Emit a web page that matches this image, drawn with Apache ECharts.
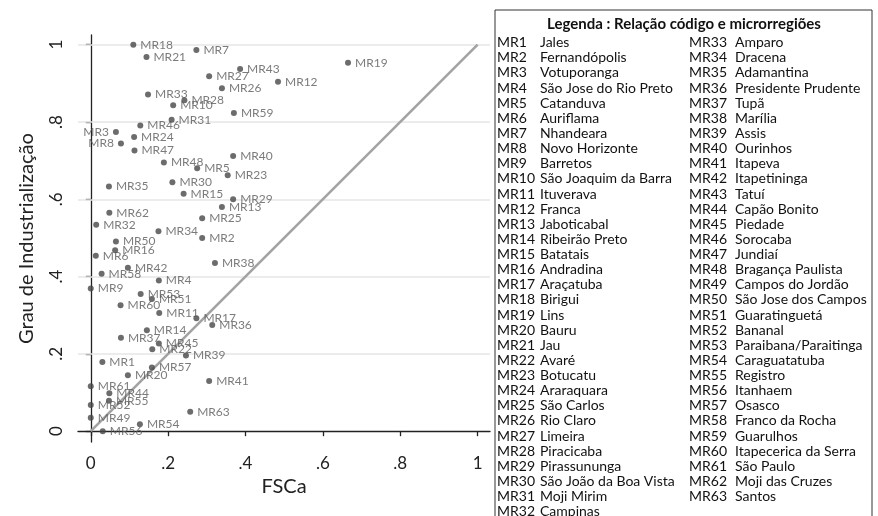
<!DOCTYPE html>
<html>
<head>
<meta charset="utf-8">
<script src="https://cdn.jsdelivr.net/npm/echarts@6/dist/echarts.min.js"></script>
<style>
  html, body { margin: 0; padding: 0; background: #fff; }
  #chart { width: 878px; height: 516px; }
</style>
</head>
<body>
<div id="chart"></div>
<script>
  // microrregiões MR1..MR63
  const regionNames = [
    'Jales', 'Fernandópolis', 'Votuporanga', 'São Jose do Rio Preto', 'Catanduva',
    'Auriflama', 'Nhandeara', 'Novo Horizonte', 'Barretos', 'São Joaquim da Barra',
    'Ituverava', 'Franca', 'Jaboticabal', 'Ribeirão Preto', 'Batatais',
    'Andradina', 'Araçatuba', 'Birigui', 'Lins', 'Bauru',
    'Jau', 'Avaré', 'Botucatu', 'Araraquara', 'São Carlos',
    'Rio Claro', 'Limeira', 'Piracicaba', 'Pirassununga', 'São João da Boa Vista',
    'Moji Mirim', 'Campinas', 'Amparo', 'Dracena', 'Adamantina',
    'Presidente Prudente', 'Tupã', 'Marília', 'Assis', 'Ourinhos',
    'Itapeva', 'Itapetininga', 'Tatuí', 'Capão Bonito', 'Piedade',
    'Sorocaba', 'Jundiaí', 'Bragança Paulista', 'Campos do Jordão', 'São Jose dos Campos',
    'Guaratinguetá', 'Bananal', 'Paraibana/Paraitinga', 'Caraguatatuba', 'Registro',
    'Itanhaem', 'Osasco', 'Franco da Rocha', 'Guarulhos', 'Itapecerica da Serra',
    'São Paulo', 'Moji das Cruzes', 'Santos'
  ];
  const regionCodes = regionNames.map((_, i) => 'MR' + (i + 1));

  // FSCa (eixo x)
  const fsca = [
    0.030, 0.288, 0.065, 0.176, 0.275, 0.013, 0.273, 0.078, 0.000, 0.213,
    0.177, 0.484, 0.339, 0.145, 0.240, 0.063, 0.273, 0.110, 0.665, 0.096,
    0.144, 0.159, 0.354, 0.112, 0.288, 0.339, 0.306, 0.242, 0.368, 0.211,
    0.209, 0.014, 0.148, 0.175, 0.047, 0.314, 0.078, 0.321, 0.246, 0.368,
    0.306, 0.096, 0.386, 0.048, 0.176, 0.128, 0.113, 0.189, 0.000, 0.065,
    0.158, 0.000, 0.129, 0.127, 0.047, 0.031, 0.158, 0.028, 0.370, 0.077,
    0.000, 0.048, 0.257
  ];
  // Grau de Industrialização (eixo y)
  const industrial = [
    0.179, 0.500, 0.774, 0.390, 0.680, 0.454, 0.986, 0.744, 0.369, 0.843,
    0.306, 0.904, 0.580, 0.261, 0.614, 0.468, 0.292, 1.000, 0.953, 0.145,
    0.968, 0.212, 0.662, 0.761, 0.551, 0.887, 0.918, 0.856, 0.600, 0.644,
    0.806, 0.534, 0.871, 0.517, 0.633, 0.275, 0.242, 0.435, 0.196, 0.712,
    0.130, 0.423, 0.937, 0.098, 0.227, 0.791, 0.726, 0.695, 0.035, 0.491,
    0.342, 0.068, 0.355, 0.018, 0.079, 0.000, 0.165, 0.407, 0.823, 0.326,
    0.116, 0.565, 0.050
  ];

  const xTicks = [0, 0.2, 0.4, 0.6, 0.8, 1];
  const yTicks = [0, 0.2, 0.4, 0.6, 0.8, 1];
  const yGridLines = [0.2, 0.4, 0.6, 0.8, 1];
  const diagonal = [[0, 0], [1, 1]];

  const legendTitle = 'Legenda : Relação código e microrregiões';
  const leftLabels = ['MR3', 'MR8'];

  const fmtTick = (v) => {
    if (v === 0) return '0';
    if (v === 1) return '1';
    return String(+v.toFixed(1)).replace(/^0/, '');
  };

  const font = 'Lato';
  const chart = echarts.init(document.getElementById('chart'));

  const scatterData = regionCodes.map((code, i) => {
    const item = { name: code, value: [fsca[i], industrial[i]] };
    if (leftLabels.includes(code)) {
      item.label = { position: 'left' };
    }
    return item;
  });

  // caixa da legenda à direita
  const boxX = 495, boxY = 10;
  const rowTop = 42.7, rowStep = 15.13;
  const legendGraphics = [
    {
      type: 'rect',
      shape: { x: boxX, y: boxY, width: 377, height: 540 },
      style: { fill: 'none', stroke: '#333', lineWidth: 1 }
    },
    {
      type: 'text',
      x: 684, y: 24,
      style: {
        text: legendTitle, fill: '#111', font: 'bold 15px ' + font,
        textAlign: 'center', textVerticalAlign: 'middle'
      }
    }
  ];
  regionCodes.forEach((code, i) => {
    const col = i < 32 ? 0 : 1;
    const row = col === 0 ? i : i - 32;
    const y = rowTop + row * rowStep;
    const codeX = col === 0 ? 497 : 689;
    const nameX = col === 0 ? 540 : 735;
    legendGraphics.push({
      type: 'text', x: codeX, y: y,
      style: { text: code, fill: '#111', font: '14px ' + font, textVerticalAlign: 'middle' }
    });
    legendGraphics.push({
      type: 'text', x: nameX, y: y,
      style: { text: regionNames[i], fill: '#111', font: '14px ' + font, textVerticalAlign: 'middle' }
    });
  });

  chart.setOption({
    animation: false,
    grid: { left: 78, right: 388, top: 35, bottom: 74 },
    xAxis: {
      type: 'value',
      min: -0.033,
      max: 1.032,
      name: 'FSCa',
      nameLocation: 'middle',
      nameGap: 35,
      nameTextStyle: { fontFamily: font, fontSize: 20, color: '#222' },
      axisLine: { lineStyle: { color: '#222', width: 1.3 } },
      axisTick: { customValues: xTicks, length: 5, lineStyle: { color: '#222', width: 1.3 } },
      axisLabel: {
        customValues: xTicks, formatter: fmtTick, margin: 13,
        fontFamily: font, fontSize: 17, color: '#222'
      },
      splitLine: { show: false }
    },
    yAxis: {
      type: 'value',
      min: -0.028,
      max: 1.025,
      name: 'Grau de Industrialização',
      nameLocation: 'middle',
      nameGap: 41,
      nameTextStyle: { fontFamily: font, fontSize: 20, color: '#222' },
      axisLine: { show: true, lineStyle: { color: '#222', width: 1.3 } },
      axisTick: { show: true, customValues: yTicks, length: 5, lineStyle: { color: '#222', width: 1.3 } },
      axisLabel: {
        customValues: yTicks, formatter: fmtTick, rotate: 90, margin: 13,
        fontFamily: font, fontSize: 17, color: '#222'
      },
      splitLine: { show: false }
    },
    graphic: legendGraphics,
    series: [
      {
        type: 'line',
        data: diagonal,
        symbol: 'none',
        z: 2,
        silent: true,
        lineStyle: { color: '#a3a3a3', width: 2.6 },
        markLine: {
          silent: true,
          symbol: 'none',
          z: 1,
          label: { show: false },
          lineStyle: { color: '#e6e6e6', width: 1.6, type: 'solid' },
          data: yGridLines.map((v) => ({ yAxis: v }))
        }
      },
      {
        type: 'scatter',
        data: scatterData,
        symbolSize: 6,
        z: 3,
        itemStyle: { color: '#474747' },
        label: {
          show: true,
          position: 'right',
          distance: 4,
          formatter: '{b}',
          fontFamily: font,
          fontSize: 12,
          color: '#5a5a5a'
        }
      }
    ]
  });
</script>
</body>
</html>
